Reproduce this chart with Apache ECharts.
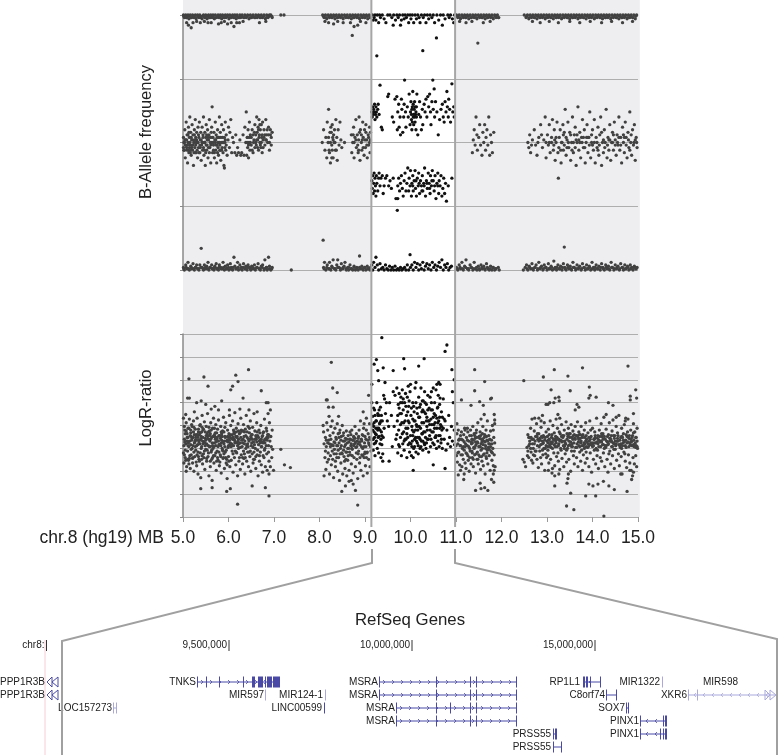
<!DOCTYPE html>
<html><head><meta charset="utf-8">
<style>html,body{margin:0;padding:0;background:#fff}#c{width:778px;height:755px}</style>
<script src="https://cdn.jsdelivr.net/npm/echarts@6/dist/echarts.min.js"></script>
</head><body><div id="c"></div>
<script>
// chromosome windows (MB)
const homBand=[9.14,10.98];
// B-allele frequency, flat x,y pairs, regions outside the highlighted band
const bafHighOuter=[5.01,1,5.03,.99,5.06,1,5.08,.99,5.11,1,5.13,.985,5.16,1,5.19,.99,5.21,1,5.24,.99,5.27,1,5.29,.985,5.32,1,5.35,.99,5.37,1,5.4,.995,5.42,.985,5.45,1,5.48,.99,5.5,1,5.53,.985,5.56,1,5.58,.99,5.61,1,5.64,.99,5.66,1,5.69,.985,5.71,1,5.74,.99,5.77,1,5.79,.99,5.82,1,5.85,.985,5.87,1,5.9,.99,5.93,1,5.95,.99,5.98,1,6.01,.985,6.03,1,6.06,.99,6.09,1,6.11,.99,6.14,1,6.17,.985,6.19,1,6.22,.99,6.25,1,6.27,.99,6.3,1,6.33,.99,6.36,1,6.39,.99,6.42,1,6.45,.985,6.48,1,6.51,.99,6.54,1,6.57,.99,6.6,1,6.63,.99,6.66,1,6.69,.99,6.72,1,6.75,.99,6.78,1,6.81,.985,6.84,1,6.87,.99,6.9,1,6.93,1,6.96,.99,7.15,1,7.22,1,
5.08,.97,5.12,.96,5.18,.95,5.22,.97,5.3,.975,5.38,.97,5.47,.975,5.55,.97,5.62,.97,5.78,.965,5.84,.97,5.91,.975,5.98,.965,6.06,.97,6.12,.955,6.18,.97,6.24,.97,6.32,.975,6.68,.97,6.82,.975,
8.07,1,8.1,.99,8.13,1,8.16,.985,8.19,1,8.22,.99,8.25,1,8.28,.99,8.31,1,8.34,.985,8.37,1,8.4,.99,8.43,1,8.46,.99,8.49,1,8.52,.985,8.55,1,8.58,.99,8.61,1,8.64,.99,8.67,1,8.7,.985,8.73,1,8.76,.99,8.79,1,8.82,.99,8.85,1,8.88,.985,8.91,1,8.94,.99,8.97,1,9,.99,9.03,1,9.06,.985,9.09,1,9.12,.99,
8.12,.975,8.2,.97,8.31,.965,8.4,.975,8.52,.97,8.68,.97,8.76,.955,8.84,.96,8.9,.975,9.02,.97,8.72,.92,
11.01,1,11.04,.99,11.07,1,11.1,.985,11.13,1,11.16,.99,11.19,1,11.22,.99,11.25,1,11.28,.985,11.31,1,11.34,.99,11.37,1,11.4,.99,11.43,1,11.46,.985,11.49,1,11.52,.99,11.55,1,11.58,.99,11.61,1,11.64,.985,11.67,1,11.7,.99,11.73,1,11.76,.99,11.79,1,11.82,.985,11.85,1,11.88,.99,11.91,1,11.94,.99,11.08,.975,11.22,.97,11.35,.975,11.48,.89,11.6,.97,11.75,.975,
12.5,1,12.54,.99,12.57,1,12.6,.985,12.63,1,12.66,.99,12.69,1,12.72,.99,12.75,1,12.78,.985,12.81,1,12.84,.99,12.87,1,12.9,.99,12.93,1,12.96,.985,12.99,1,13.02,.99,13.05,1,13.08,.99,13.11,1,13.14,.985,13.17,1,13.2,.99,13.23,1,13.26,.99,13.29,1,13.32,.985,13.35,1,13.38,.99,13.41,1,13.44,.99,13.47,1,13.5,.985,13.53,1,13.56,.99,13.59,1,13.62,.99,13.65,1,13.68,.985,13.71,1,13.74,.99,13.77,1,13.8,.99,13.83,1,13.86,.985,13.89,1,13.92,.99,13.95,1,13.98,.99,14.01,1,14.04,.985,14.07,1,14.1,.99,14.13,1,14.16,.99,14.19,1,14.22,.985,14.25,1,14.28,.99,14.31,1,14.34,.99,14.37,1,14.4,.985,14.43,1,14.46,.99,14.49,1,14.52,.99,14.55,1,14.58,.985,14.61,1,14.64,.99,14.67,1,14.7,.99,14.73,1,14.76,.985,14.79,1,14.82,.99,14.85,1,14.88,.99,14.91,1,14.94,.985,14.97,1,
12.68,.975,12.85,.97,13.05,.975,13.25,.97,13.5,.975,13.72,.97,13.95,.975,14.2,.97,14.42,.975,14.66,.97,14.88,.975];
const bafHighFill=[5.02,.995,5.07,.99,5.12,.995,5.17,.99,5.23,.995,5.28,.99,5.33,.995,5.38,.99,5.44,.995,5.49,.99,5.54,.995,5.6,.99,5.65,.995,5.7,.99,5.76,.995,5.81,.99,5.86,.995,5.92,.99,5.97,.995,6.02,.99,6.08,.995,6.13,.99,6.18,.995,6.24,.99,6.29,.995,6.35,.99,6.41,.995,6.47,.99,6.53,.995,6.59,.99,6.65,.995,6.71,.99,6.77,.995,6.83,.99,6.89,.995,6.95,.995,8.09,.995,8.15,.99,8.21,.995,8.27,.99,8.33,.995,8.39,.99,8.45,.995,8.51,.99,8.57,.995,8.63,.99,8.69,.995,8.75,.99,8.81,.995,8.87,.99,8.93,.995,8.99,.99,9.05,.995,9.11,.99,11.03,.995,11.09,.99,11.15,.995,11.21,.99,11.27,.995,11.33,.99,11.39,.995,11.45,.99,11.51,.995,11.57,.99,11.63,.995,11.69,.99,11.75,.995,11.81,.99,11.87,.995,11.93,.99,12.55,.995,12.61,.99,12.67,.995,12.73,.99,12.79,.995,12.85,.99,12.91,.995,12.97,.99,13.03,.995,13.09,.99,13.15,.995,13.21,.99,13.27,.995,13.33,.99,13.39,.995,13.45,.99,13.51,.995,13.57,.99,13.63,.995,13.69,.99,13.75,.995,13.81,.99,13.87,.995,13.93,.99,13.99,.995,14.05,.99,14.11,.995,14.17,.99,14.23,.995,14.29,.99,14.35,.995,14.41,.99,14.47,.995,14.53,.99,14.59,.995,14.65,.99,14.71,.995,14.77,.99,14.83,.995,14.89,.99,14.95,.995];
const bafMidOuter=[5.01,.52,5.02,.47,5.03,.5,5.04,.55,5.05,.44,5.06,.51,5.07,.58,5.08,.48,5.09,.53,5.1,.42,5.11,.5,5.12,.56,5.13,.46,5.14,.52,5.15,.6,5.16,.49,5.17,.54,5.18,.45,5.19,.51,5.2,.57,5.21,.47,5.22,.53,5.23,.41,5.24,.5,5.25,.55,5.26,.48,5.27,.59,5.28,.52,5.29,.46,5.3,.54,5.31,.5,5.32,.44,5.33,.56,5.34,.48,5.35,.52,5.36,.58,5.37,.46,5.38,.51,5.39,.54,5.4,.43,5.41,.49,5.42,.56,5.43,.47,5.44,.52,5.45,.6,5.46,.45,5.47,.5,5.48,.54,5.49,.41,5.5,.52,5.51,.57,5.52,.47,5.53,.49,5.54,.55,5.55,.44,5.56,.51,5.57,.53,5.58,.59,5.59,.48,5.6,.52,5.61,.42,5.62,.5,5.63,.56,5.64,.64,5.65,.46,5.66,.52,5.67,.49,5.68,.54,5.69,.44,5.7,.51,5.71,.58,5.72,.47,5.73,.53,5.74,.42,5.75,.49,5.76,.55,5.77,.5,5.78,.45,5.79,.52,5.8,.6,5.81,.47,5.82,.54,5.83,.43,5.84,.5,5.85,.57,5.86,.48,5.87,.52,5.88,.46,5.89,.55,5.9,.41,5.91,.4,5.92,.5,5.93,.58,5.94,.47,5.95,.53,5.97,.45,5.99,.51,6,.56,6.02,.48,6.03,.54,6.05,.59,6.07,.46,6.09,.52,6.11,.5,6.14,.46,6.16,.53,6.18,.45,6.2,.48,6.22,.46,6.25,.51,6.27,.45,6.29,.46,6.32,.53,6.34,.45,6.36,.56,6.38,.5,6.39,.62,6.4,.45,6.41,.52,6.42,.48,6.43,.55,6.44,.44,6.45,.5,6.46,.58,6.47,.47,6.48,.53,6.5,.49,6.52,.55,6.54,.46,6.56,.51,6.58,.57,6.6,.53,6.61,.49,6.62,.6,6.63,.54,6.64,.51,6.65,.56,6.66,.47,6.67,.59,6.68,.53,6.69,.5,6.7,.55,6.71,.48,6.72,.57,6.73,.52,6.74,.46,6.75,.58,6.76,.51,6.78,.55,6.8,.49,6.82,.59,6.84,.53,6.86,.5,6.88,.56,6.9,.47,6.92,.53,6.94,.49,6.96,.54,
8.06,.5,8.09,.55,8.12,.47,8.14,.52,8.16,.44,8.17,.58,8.19,.5,8.2,.63,8.21,.47,8.23,.54,8.24,.42,8.25,.56,8.27,.49,8.28,.57,8.29,.52,8.3,.44,8.32,.5,8.33,.55,8.35,.47,8.36,.59,8.38,.52,8.39,.43,8.41,.55,8.43,.49,8.45,.58,8.47,.51,8.49,.48,8.55,.5,8.7,.53,8.71,.46,8.73,.5,8.75,.56,8.76,.44,8.78,.52,8.8,.59,8.81,.48,8.83,.53,8.85,.46,8.86,.51,8.87,.6,8.89,.43,8.9,.55,8.92,.5,8.93,.47,8.95,.58,8.96,.52,8.98,.45,8.99,.55,9.01,.48,9.02,.57,9.04,.51,9.05,.44,9.07,.53,9.08,.49,9.1,.56,9.11,.46,9.12,.51,
11.36,.46,11.38,.51,11.4,.55,11.42,.49,11.44,.6,11.46,.53,11.47,.47,11.5,.52,11.52,.57,11.54,.49,11.57,.45,11.59,.54,11.61,.5,11.63,.57,11.65,.47,11.66,.52,11.68,.55,11.7,.49,11.72,.6,11.74,.45,11.76,.53,11.78,.5,11.8,.46,11.83,.54,
12.58,.5,12.6,.48,12.62,.53,12.64,.46,12.68,.51,12.72,.55,12.75,.49,12.78,.45,12.82,.52,12.86,.57,12.9,.48,12.93,.51,12.96,.6,12.98,.44,13.01,.53,13.03,.49,13.05,.57,13.07,.46,13.1,.52,13.12,.59,13.14,.47,13.16,.55,13.18,.43,13.2,.5,13.22,.58,13.24,.46,13.25,.36,13.27,.52,13.29,.55,13.31,.42,13.33,.5,13.35,.57,13.36,.47,13.38,.54,13.4,.63,13.42,.45,13.44,.51,13.46,.58,13.48,.48,13.5,.54,13.52,.43,13.54,.5,13.56,.6,13.58,.46,13.6,.53,13.62,.56,13.64,.41,13.66,.5,13.68,.64,13.7,.47,13.72,.54,13.74,.44,13.76,.52,13.78,.59,13.8,.48,13.82,.55,13.84,.42,13.86,.5,13.88,.57,13.9,.46,13.92,.52,13.94,.62,13.96,.44,13.98,.5,14,.55,14.02,.47,14.04,.59,14.06,.42,14.08,.52,14.1,.48,14.12,.56,14.14,.45,14.16,.53,14.18,.6,14.2,.41,14.22,.5,14.24,.46,14.26,.55,14.28,.5,14.3,.63,14.32,.44,14.34,.52,14.36,.47,14.38,.57,14.4,.43,14.42,.5,14.44,.54,14.46,.47,14.48,.58,14.5,.51,14.52,.45,14.54,.53,14.56,.49,14.58,.6,14.6,.47,14.62,.52,14.64,.42,14.66,.56,14.68,.5,14.7,.46,14.72,.58,14.74,.52,14.76,.44,14.78,.54,14.8,.48,14.82,.62,14.84,.5,14.86,.45,14.88,.55,14.9,.49,14.92,.57,14.94,.43,14.96,.52,14.98,.48];
const bafMidFill=[5.02,.5,5.37,.49,5.12,.47,5.71,.5,5.04,.51,5.5,.46,5.22,.49,5.83,.52,5.09,.47,5.61,.49,5.3,.51,5.92,.48,5.15,.5,5.45,.48,5.76,.46,5.24,.46,5.55,.52,5.03,.47,5.67,.47,5.33,.5,5.87,.5,5.18,.52,5.42,.5,5.73,.49,5.06,.49,5.53,.51,5.27,.46,5.8,.5,5.11,.53,5.64,.52,5.35,.46,5.95,.49,5.2,.49,5.47,.47,5.78,.52,5.08,.51,5.58,.46,5.29,.5,5.85,.47,5.14,.48,5.4,.51,5.69,.46,5.01,.48,5.51,.49,5.25,.53,5.75,.52,5.17,.47,5.62,.54,5.31,.47,5.89,.5,5.05,.49,5.44,.53,5.81,.49,5.21,.51,5.56,.48,5.34,.53,5.93,.51,5.13,.54,5.48,.5,5.72,.51,5.28,.49,5.6,.5,5.38,.48,5.82,.47,5.16,.46,5.66,.5,5.26,.51,5.77,.48,5.1,.49,5.52,.53,5.43,.5,5.91,.52,5.19,.48,6.5,.52,6.44,.49,6.62,.51,6.72,.5,6.55,.5,6.83,.51,6.67,.52,6.46,.52,6.78,.52,6.58,.48,6.88,.53,6.7,.49,6.41,.5,6.64,.48,6.8,.53,6.52,.47,6.9,.5,6.74,.53,6.48,.5,6.6,.5,6.85,.55,6.42,.52,6.66,.55,6.76,.48,6.54,.53,6.92,.55,6.69,.57,6.82,.51,6.57,.54,6.94,.52,
8.2,.52,8.24,.5,8.28,.47,8.31,.53,8.26,.54,8.34,.5,8.22,.46,8.3,.51,8.37,.47,8.27,.44,8.76,.5,8.84,.49,8.92,.53,9,.51,9.08,.52,8.8,.51,8.88,.54,8.96,.48,9.04,.49,9.12,.54,8.74,.53,8.86,.47,8.94,.51,9.02,.54,9.1,.5,
12.66,.49,12.8,.5,12.88,.53,12.98,.5,13.05,.5,13.15,.49,13.2,.52,13.26,.48,13.32,.5,13.38,.49,13.42,.52,13.47,.5,13.52,.53,13.58,.5,13.62,.48,13.66,.53,13.72,.5,13.77,.5,13.83,.48,13.87,.52,13.93,.49,13.98,.53,14.04,.5,14.1,.5,14.15,.49,14.2,.54,14.27,.48,14.33,.49,14.38,.51,14.44,.5,14.5,.49,14.55,.5,14.62,.49,14.68,.53,14.74,.49,14.79,.51,14.85,.53,14.91,.5,14.97,.5,13.1,.5,13.17,.51,13.3,.47,13.36,.53,13.44,.48,13.55,.47,13.64,.51,13.7,.51,13.8,.52,13.9,.52,14,.49,14.12,.47,14.24,.51,14.36,.51,14.46,.53,14.58,.52,14.7,.52,14.82,.47,14.94,.51];
const bafLowOuter=[5.01,.01,5.03,.0,5.06,.02,5.09,.005,5.11,.03,5.14,.0,5.17,.015,5.19,.005,5.22,.025,5.25,.0,5.27,.01,5.3,.02,5.32,.005,5.35,.0,5.37,.02,5.4,.085,5.42,.01,5.45,.0,5.47,.02,5.5,.005,5.52,.015,5.55,.03,5.57,.0,5.6,.01,5.63,.02,5.65,.005,5.68,.0,5.7,.015,5.73,.025,5.75,.005,5.78,.0,5.8,.02,5.83,.01,5.86,.005,5.88,.03,5.91,.0,5.93,.015,5.96,.005,5.98,.02,6.01,.0,6.04,.025,6.06,.01,6.09,.0,6.12,.05,6.14,.015,6.17,.005,6.2,.03,6.22,.0,6.25,.02,6.28,.01,6.3,.0,6.33,.025,6.36,.005,6.38,.015,6.41,.0,6.43,.02,6.46,.01,6.49,.0,6.51,.015,6.54,.005,6.57,.02,6.59,.0,6.62,.01,6.65,.025,6.67,.005,6.7,.0,6.72,.015,6.75,.02,6.78,.0,6.8,.04,6.83,.01,6.85,.0,6.88,.05,6.9,.015,6.93,.0,6.96,.01,7.38,.0,
8.08,.117,8.09,.01,8.11,.03,8.14,.0,8.17,.02,8.2,.005,8.22,.03,8.25,.0,8.27,.015,8.3,.04,8.33,.005,8.36,.0,8.38,.02,8.4,.04,8.43,.01,8.46,.0,8.48,.025,8.51,.005,8.54,.015,8.56,.03,8.59,.0,8.62,.01,8.64,.0,8.67,.02,8.7,.005,8.73,.0,8.76,.015,8.79,.0,8.82,.01,8.85,.0,8.88,.055,8.9,.005,8.93,.015,8.96,.0,8.99,.01,9.02,.0,9.05,.015,9.08,.005,9.11,.0,
11.01,.01,11.04,.0,11.07,.02,11.1,.005,11.13,.03,11.16,.0,11.19,.015,11.22,.04,11.25,.005,11.28,.0,11.31,.02,11.34,.01,11.37,.0,11.4,.03,11.43,.005,11.46,.0,11.49,.015,11.52,.0,11.55,.02,11.58,.005,11.61,.015,11.64,.0,11.67,.025,11.7,.005,11.73,.0,11.76,.015,11.79,.0,11.82,.01,11.85,.0,11.88,.005,11.95,.0,
12.48,.0,12.52,.01,12.55,.02,12.58,.0,12.61,.015,12.64,.005,12.67,.025,12.7,.0,12.73,.01,12.76,.02,12.79,.0,12.82,.03,12.85,.005,12.88,.015,12.91,.0,12.94,.02,12.97,.01,13,.0,13.03,.025,13.06,.005,13.09,.015,13.12,.0,13.15,.035,13.18,.01,13.21,.0,13.24,.02,13.27,.005,13.3,.015,13.33,.0,13.36,.025,13.38,.09,13.39,.01,13.42,.0,13.45,.02,13.48,.005,13.51,.015,13.54,.0,13.57,.03,13.6,.01,13.63,.0,13.66,.02,13.69,.005,13.72,.015,13.75,.0,13.78,.025,13.81,.01,13.84,.0,13.87,.02,13.9,.005,13.93,.015,13.96,.0,13.99,.03,14.02,.01,14.05,.0,14.08,.02,14.11,.005,14.14,.015,14.17,.0,14.2,.025,14.23,.01,14.26,.0,14.29,.02,14.32,.005,14.35,.015,14.38,.0,14.41,.03,14.44,.01,14.47,.0,14.5,.02,14.53,.005,14.56,.015,14.59,.0,14.62,.025,14.65,.01,14.68,.0,14.71,.02,14.74,.005,14.77,.015,14.8,.0,14.83,.02,14.86,.01,14.89,.0,14.92,.015,14.95,.005,14.98,.01];
const bafLowFill=[5.02,.005,5.07,.01,5.12,.005,5.18,.01,5.23,.005,5.28,.01,5.34,.005,5.39,.01,5.44,.005,5.49,.01,5.54,.005,5.59,.01,5.64,.005,5.69,.01,5.74,.005,5.79,.01,5.84,.005,5.89,.01,5.95,.005,6,.01,6.05,.005,6.1,.01,6.16,.005,6.21,.01,6.27,.005,6.32,.01,6.37,.005,6.42,.01,6.48,.005,6.53,.01,6.58,.005,6.63,.01,6.69,.005,6.74,.01,6.79,.005,6.84,.01,6.9,.005,6.95,.005,8.1,.005,8.16,.01,8.22,.005,8.28,.01,8.34,.005,8.4,.01,8.46,.005,8.52,.01,8.58,.005,8.64,.01,8.7,.005,8.76,.01,8.82,.005,8.88,.01,8.94,.005,9,.01,9.06,.005,9.12,.01,11.03,.005,11.09,.01,11.15,.005,11.21,.01,11.27,.005,11.33,.01,11.39,.005,11.45,.01,11.51,.005,11.57,.01,11.63,.005,11.69,.01,11.75,.005,11.81,.01,11.87,.005,11.93,.01,12.56,.005,12.62,.01,12.68,.005,12.74,.01,12.8,.005,12.86,.01,12.92,.005,12.98,.01,13.04,.005,13.1,.01,13.16,.005,13.22,.01,13.28,.005,13.34,.01,13.4,.005,13.46,.01,13.52,.005,13.58,.01,13.64,.005,13.7,.01,13.76,.005,13.82,.01,13.88,.005,13.94,.01,14,.005,14.06,.01,14.12,.005,14.18,.01,14.24,.005,14.3,.01,14.36,.005,14.42,.01,14.48,.005,14.54,.01,14.6,.005,14.66,.01,14.72,.005,14.78,.01,14.84,.005,14.9,.01,14.96,.005];
// B-allele frequency inside the highlighted band
const bafHighInner=[9.16,1,9.18,.98,9.2,.99,9.22,1,9.24,.98,9.26,.84,9.27,1,9.3,.97,9.32,1,9.34,.99,9.38,1,9.42,.985,9.46,.97,9.5,1,9.55,1,9.59,.99,9.62,.96,9.63,1,9.67,.98,9.7,1,9.73,.99,9.76,1,9.78,.96,9.8,.98,9.83,1,9.86,.985,9.88,1,9.91,.99,9.94,1,9.96,.97,9.99,1,10.01,.985,10.04,1,10.07,.97,10.1,1,10.13,.985,10.16,1,10.19,.99,10.21,.97,10.24,1,10.27,.86,10.28,.99,10.31,1,10.34,.97,10.37,1,10.4,.985,10.43,1,10.47,.99,10.5,1,10.53,.97,10.57,.91,10.58,1,10.62,.98,10.66,1,10.7,.96,10.72,1,10.76,.985,10.82,1,10.85,.99,10.88,1,10.92,.985,10.95,.97,10.97,1];
const bafUpperInner=[9.15,.62,9.16,.6,9.17,.64,9.18,.61,9.19,.63,9.2,.62,9.21,.65,9.22,.59,9.23,.61,9.24,.64,9.25,.62,9.26,.6,9.28,.63,9.29,.65,9.31,.61,9.33,.725,9.36,.56,9.38,.55,9.5,.68,9.52,.69,9.6,.6,9.63,.58,9.66,.67,9.7,.68,9.71,.55,9.72,.62,9.74,.65,9.75,.56,9.77,.6,9.78,.53,9.8,.67,9.81,.63,9.83,.54,9.85,.6,9.86,.65,9.87,.745,9.89,.62,9.9,.56,9.93,.64,9.95,.6,9.97,.69,9.99,.57,10.0,.62,10.01,.66,10.02,.59,10.03,.55,10.04,.64,10.05,.7,10.06,.6,10.07,.57,10.08,.63,10.09,.66,10.1,.58,10.11,.61,10.12,.55,10.13,.64,10.14,.69,10.16,.53,10.18,.61,10.2,.66,10.22,.6,10.24,.55,10.26,.63,10.27,.57,10.3,.65,10.32,.62,10.34,.67,10.36,.6,10.38,.68,10.4,.64,10.42,.69,10.44,.62,10.45,.57,10.47,.66,10.49,.745,10.5,.63,10.52,.71,10.53,.6,10.55,.66,10.58,.62,10.61,.53,10.64,.59,10.67,.63,10.7,.65,10.72,.6,10.74,.58,10.76,.66,10.78,.62,10.8,.7,10.81,.64,10.83,.6,10.84,.67,10.86,.63,10.88,.58,10.91,.73,10.93,.62,10.95,.64,10.96,.6,10.03,.63,10.06,.65,10.09,.6,10.12,.62,10.04,.58,10.1,.64,10.07,.61,10.13,.6,10.02,.61];
const bafLowerInner=[9.15,.35,9.16,.32,9.17,.37,9.18,.3,9.19,.34,9.2,.38,9.21,.31,9.22,.36,9.23,.33,9.24,.29,9.25,.37,9.26,.34,9.28,.31,9.3,.36,9.31,.38,9.33,.33,9.35,.36,9.38,.37,9.4,.3,9.42,.33,9.45,.36,9.48,.37,9.52,.33,9.55,.35,9.58,.32,9.62,.36,9.68,.28,9.71,.234,9.72,.28,9.72,.33,9.74,.36,9.76,.31,9.78,.34,9.8,.37,9.82,.32,9.84,.29,9.86,.35,9.88,.38,9.9,.31,9.92,.34,9.94,.4,9.96,.31,9.97,.36,9.99,.33,10.0,.39,10.02,.29,10.03,.34,10.05,.37,10.06,.31,10.08,.35,10.1,.39,10.11,.32,10.13,.29,10.15,.36,10.17,.33,10.18,.38,10.2,.3,10.22,.35,10.24,.33,10.26,.37,10.27,.31,10.29,.34,10.31,.4,10.33,.29,10.35,.35,10.37,.32,10.39,.38,10.41,.34,10.43,.3,10.44,.37,10.46,.33,10.48,.39,10.5,.35,10.52,.31,10.54,.37,10.56,.28,10.58,.34,10.6,.38,10.62,.3,10.63,.35,10.65,.33,10.67,.37,10.69,.29,10.71,.32,10.73,.36,10.75,.3,10.77,.34,10.79,.27,10.83,.33,10.91,.36,10.05,.33,10.12,.35,10.19,.34,10.25,.31,10.3,.33,10.36,.34,10.42,.32,10.47,.35,10.53,.33,10.6,.33];
const bafLowInner=[9.15,.02,9.17,.0,9.19,.03,9.22,.01,9.24,.05,9.27,.02,9.3,.0,9.33,.025,9.36,.005,9.39,.01,9.42,.0,9.45,.02,9.48,.005,9.51,.0,9.54,.015,9.57,.0,9.6,.01,9.63,.0,9.66,.015,9.69,.0,9.72,.005,9.75,.0,9.78,.01,9.81,.0,9.84,.005,9.87,.01,9.9,.0,9.93,.02,9.96,.0,9.99,.06,10.0,.01,10.03,.02,10.06,.0,10.09,.03,10.12,.01,10.15,.025,10.18,.0,10.21,.02,10.24,.005,10.27,.03,10.3,.0,10.33,.015,10.36,.025,10.39,.005,10.42,.02,10.45,.0,10.48,.03,10.51,.01,10.54,.02,10.57,.0,10.6,.015,10.63,.03,10.66,.01,10.69,.04,10.72,.0,10.75,.02,10.78,.01,10.81,.025,10.84,.0,10.87,.01,10.9,.015];
// LogR ratio, flat x,y pairs
const lrrLeft=[5.13,.76,5.46,.78,6.44,.86,6.16,.8,6.21,.73,5.55,.68,6.09,.68,6.05,.64,6.2,-.61,6.89,-.52,5.96,-.47,6.04,-.44,6.52,-.41,6.81,-.43,5.39,-.44,5.64,-.43,7.23,-.18,7.36,-.21,7.15,-.01,6.97,-.01,6.99,-.24,5.1,.55,5.14,.55,5.3,.5,5.4,.52,5.5,.48,5.7,.46,5.85,.52,6.32,.55,6.72,.63,6.83,.5,6.87,.5,6.63,.4,6.45,.42,6.25,.43,6.02,.42,5.78,.42,5.62,.43,5.25,.4,5.06,.37,5.01,.33,5.03,.1,5.01,-.05,5.02,-.16,5.04,.2,5.05,-.1,5.06,.05,5.07,.28,5.08,-.2,5.09,.12,5.1,-.03,5.11,.22,5.12,-.13,5.13,.02,5.14,.32,5.15,.08,5.16,-.22,5.17,.17,5.18,-.07,5.19,.26,5.2,.0,5.21,-.16,5.22,.12,5.23,.3,5.24,-.25,5.25,.06,5.26,-.09,5.27,.21,5.28,-.02,5.29,.15,5.3,-.19,5.31,.33,5.32,.04,5.33,-.28,5.34,.18,5.35,-.12,5.36,.09,5.37,.25,5.38,-.05,5.39,-.32,5.4,.13,5.41,.02,5.42,.36,5.43,-.17,5.44,.2,5.45,-.06,5.46,.07,5.47,.29,5.48,-.23,5.49,.11,5.5,-.01,5.51,.24,5.52,-.14,5.53,.16,5.54,.38,5.55,-.09,5.56,.03,5.57,-.3,5.58,.19,5.59,.08,5.6,-.2,5.61,.28,5.62,-.04,5.63,.12,5.64,-.35,5.65,.22,5.66,.0,5.67,.33,5.68,-.16,5.69,.06,5.7,-.08,5.71,.17,5.72,.26,5.73,-.24,5.74,.1,5.75,-.03,5.76,.21,5.77,-.13,5.78,.31,5.79,.04,5.8,-.19,5.81,.14,5.82,-.07,5.83,.24,5.84,-.27,5.85,.09,5.86,.0,5.87,.19,5.88,-.11,5.89,.34,5.9,.05,5.91,-.22,5.92,.13,5.93,-.04,5.94,.28,5.95,-.16,5.96,.08,5.97,-.33,5.98,.2,5.99,.01,6,-.09,6.01,.16,6.02,.36,6.03,-.2,6.04,.06,6.05,.25,6.06,-.13,6.07,.11,6.08,-.03,6.09,.3,6.1,-.26,6.11,.03,6.12,.18,6.13,-.1,6.14,.39,6.15,.07,6.16,-.18,6.17,.22,6.18,-.05,6.19,.13,6.2,-.3,6.21,.27,6.22,.0,6.23,-.14,6.24,.16,6.25,.06,6.26,-.23,6.27,.33,6.28,-.07,6.29,.19,6.3,.02,6.31,-.17,6.32,.1,6.33,.26,6.34,-.11,6.35,.05,6.36,-.28,6.37,.21,6.38,.0,6.39,.36,6.4,-.14,6.41,.12,6.42,-.04,6.43,.24,6.44,-.2,6.45,.08,6.46,.17,6.47,-.09,6.48,.3,6.49,-.25,6.5,.03,6.51,.15,6.52,-.06,6.53,.23,6.54,-.16,6.55,.07,6.56,.38,6.57,-.12,6.58,.19,6.59,.0,6.6,-.22,6.61,.1,6.62,.28,6.63,-.07,6.64,.14,6.65,-.3,6.66,.04,6.67,.2,6.68,-.14,6.69,.09,6.7,-.04,6.71,.25,6.72,-.18,6.73,.02,6.74,.13,6.75,-.26,6.76,.06,6.77,.18,6.78,-.1,6.79,.32,6.8,.0,6.81,-.2,6.82,.1,6.83,.22,6.84,-.06,6.85,-.24,6.86,.15,6.87,.38,6.88,.03,6.89,-.14,6.9,.28,6.91,.08,6.92,-.2,6.93,.13,6.94,.02,6.95,-.1,6.96,.2,6.92,.42,6.89,-.28,
5.07,-.25,5.11,.12,5.13,-.17,5.17,.04,5.22,-.1,5.27,.09,5.33,-.04,5.36,.15,5.41,-.12,5.44,.05,5.49,.18,5.53,-.02,5.57,.1,5.6,.02,5.65,-.1,5.7,.13,5.74,-.14,5.79,.14,5.84,.06,5.88,-.03,5.92,.02,5.96,-.12,6,.12,6.03,.04,6.06,.02,6.1,.12,6.13,.09,6.17,-.04,6.22,.1,6.26,.01,6.31,.06,6.35,.18,6.4,.03,6.44,.1,6.48,-.03,6.52,.1,6.56,-.04,6.6,.14,6.64,-.02,6.68,.08,6.72,.02,6.76,-.08,6.8,.06,6.84,.12,6.88,-.04];
const lrrLeftFill=[5.35,.07,5.02,.03,5.71,.1,5.18,-.01,6.05,.02,5.52,.05,6.38,.14,5.9,-.06,5.27,.02,6.62,.07,5.05,.16,5.8,.04,6.14,.06,5.43,.08,6.75,.14,5.2,.11,5.63,-.02,6.27,.12,5.97,.09,5.1,-.12,6.5,.11,5.33,.12,5.76,-.1,6.18,.12,5.47,-.03,6.85,.09,5.24,-.04,5.66,.13,6.33,-.03,5.93,.12,5.08,.08,6.57,.04,5.4,.0,5.83,.03,6.22,.19,5.55,.14,6.7,.06,5.15,-.08,6.02,.09,5.6,.16,6.42,.05,5.3,.03,5.87,-.02,6.1,-.06,5.48,.06,6.79,-.02,5.12,.06,5.72,-.05,6.29,.09,5.94,-.1,5.38,.17,6.47,.1,5.03,-.07,5.78,.08,6.08,.15,5.56,-.05,6.66,.12,5.22,.03,5.68,.02,6.36,.08,5.99,.07,5.34,-.09,6.54,.01,5.16,.14,5.82,.11,6.2,.03,5.44,.12,6.83,.03,5.28,.12,5.64,.06,6.24,-.1,5.9,.18,5.06,-.13,6.6,-.09,5.42,-.08,5.74,.17,6.15,-.03,5.52,-.11,6.72,.1,5.19,.09,5.6,-.14,6.31,-.1,5.86,.13,5.31,-.07,6.45,-.04,5.09,.16,5.79,-.04,6.07,.05,5.58,.02,6.87,.12,5.25,.15,5.69,.15,6.41,.18,6.0,.03,5.37,.05,6.58,.1,5.14,-.11,5.85,.16,6.19,.06,5.46,-.1,6.76,.17,5.29,-.15,5.62,.2,6.34,.13,5.95,-.02,5.04,.07,6.52,.15,5.41,.18,5.77,.02,6.12,.1,5.5,.09,6.68,-.08,5.23,.18,5.73,.07,6.26,.17,5.91,.08,5.34,.21,6.49,.13,5.11,.03,5.83,-.09,6.03,.15,5.57,.23,6.8,.1,5.21,-.11,5.67,-.08,6.37,-.1,5.98,.13,5.39,.1,6.63,.18,5.17,.2,5.88,.07,6.16,.13,5.45,.21,6.88,.15,5.26,.07,5.61,.1,6.21,.08,6.01,-.14,5.07,.19,6.55,-.12,5.36,-.14,5.75,.12,6.11,.2,5.51,.14,6.73,.07,5.13,.22,5.69,.22,6.28,.2,5.84,.18,5.32,.15,6.43,.02,5.05,-.02,5.92,.23,6.09,.1,5.54,.11,6.84,.19,5.18,.13,5.65,.03,6.35,-.06,5.97,-.18,5.42,.23,6.61,.13,5.24,.23,5.81,-.15,6.13,.16,5.49,.03,6.78,.08,5.1,.08,5.59,.14,6.23,.05,5.89,-.1,5.3,.09,6.51,.06,5.03,.24,5.72,.03,6.17,.18,5.56,.18,6.69,.17,5.2,.24,5.63,-.12,6.32,.19,6.04,.12,5.38,.26,6.46,.22];
const lrrMid=[8.26,.94,8.29,.66,8.39,.61,8.84,-.62,8.49,-.47,8.79,-.46,8.57,-.41,8.65,-.36,8.74,-.39,8.7,-.35,8.15,.53,8.17,.53,8.2,.45,8.3,.45,8.42,.35,8.96,.4,9.08,.58,8.98,.27,9.03,.33,8.08,.25,8.1,-.3,8.09,.18,8.1,.05,8.12,-.1,8.13,.12,8.14,-.23,8.15,.02,8.16,.28,8.17,-.15,8.18,.2,8.19,-.05,8.2,.09,8.21,.35,8.22,-.28,8.23,.14,8.24,-.08,8.25,.24,8.26,-.18,8.27,.04,8.28,.3,8.29,-.12,8.3,.17,8.31,-.32,8.32,.07,8.33,-.01,8.34,.22,8.35,-.2,8.36,.12,8.37,-.06,8.38,.03,8.39,.27,8.4,-.25,8.41,.16,8.42,-.1,8.43,.06,8.44,-.35,8.45,.2,8.46,.0,8.47,-.16,8.48,.13,8.49,-.05,8.5,.25,8.51,-.28,8.52,.08,8.53,.17,8.54,-.09,8.55,.02,8.56,-.22,8.57,.11,8.58,-.04,8.59,.19,8.6,-.3,8.61,.06,8.62,-.13,8.63,.14,8.64,.0,8.65,-.24,8.66,.1,8.67,.18,8.68,-.07,8.69,.03,8.7,-.17,8.71,.2,8.72,-.01,8.73,.09,8.74,-.27,8.75,.13,8.76,-.1,8.77,.05,8.78,.24,8.79,-.2,8.8,.01,8.81,.16,8.82,-.12,8.83,.08,8.84,-.33,8.85,.11,8.86,-.03,8.87,.2,8.88,-.16,8.89,.04,8.9,.3,8.91,-.24,8.92,.1,8.93,-.07,8.94,.15,8.95,.0,8.96,-.3,8.97,.22,8.98,-.1,8.99,.06,9,.13,9.01,-.19,9.02,.02,9.03,.2,9.04,-.05,9.05,-.27,9.06,.09,9.07,.16,9.08,-.12,9.09,.04,9.1,.27,9.11,-.2,9.12,.1,9.13,-.03];
const lrrMidFill=[8.55,.08,8.82,.02,8.25,.1,9.02,.1,8.4,.03,8.7,.05,8.95,-.08,8.62,.0,8.32,-.06,8.88,.07,8.5,-.06,8.75,.03,9.08,.06,8.2,-.12,8.6,.1,8.85,-.06,8.43,.12,8.98,.02,8.72,-.08,8.3,.03,8.53,-.02,9.05,-.04,8.65,.07,8.37,.1,8.92,.02,8.78,.11,8.48,.03,8.15,.09,8.58,-.12,8.81,-.05,8.35,-.14,9.0,-.04,8.68,.1,8.24,.02,8.89,-.1,8.45,-.06,8.76,.12,8.57,.04,9.1,.12,8.28,-.03,8.63,-.08,8.93,.08,8.41,-.02,8.71,.0,8.18,.06,8.52,.14,8.84,.05,9.03,-.1,8.34,.06,8.66,-.04,8.96,.14,8.47,.09,8.79,.07,8.22,.05,8.6,-.04,9.12,.02,8.38,-.1,8.86,.13,8.55,-.14,8.74,.09,8.13,-.03,8.99,-.06,8.44,.17,8.69,.15];
const lrrRight=[11.41,.86,11.63,.73,11.41,.63,11.43,-.46,11.12,.53,11.02,.27,11.52,.51,11.6,.47,11.33,.47,11.76,.54,11.78,.55,11.84,.37,11.85,.31,11.85,.27,11.62,.37,11.55,.32,11.2,.2,11.25,.22,11.17,-.34,11.05,-.29,11.1,-.24,11.18,-.28,11.53,-.38,11.55,-.44,11.63,-.43,11.7,-.46,11.78,-.34,11.82,-.28,11.83,-.37,11.84,-.24,
11,.03,11.01,-.08,11.02,.16,11.03,-.15,11.04,.05,11.05,.2,11.06,-.04,11.07,.1,11.08,-.18,11.09,.03,11.1,.14,11.11,-.07,11.12,.18,11.13,-.2,11.14,.0,11.15,.09,11.16,-.12,11.17,.15,11.18,-.02,11.19,.22,11.2,-.16,11.21,.05,11.22,-.22,11.23,.12,11.24,-.06,11.25,.03,11.26,.18,11.27,-.13,11.28,.08,11.29,-.25,11.3,.14,11.31,-.03,11.32,.2,11.33,-.17,11.34,.05,11.35,.1,11.36,-.1,11.37,.24,11.38,-.2,11.39,.01,11.4,.16,11.41,-.07,11.42,.11,11.43,-.27,11.44,.04,11.45,.2,11.46,-.12,11.47,.07,11.48,.28,11.49,-.17,11.5,.02,11.51,.13,11.52,-.09,11.53,.18,11.54,-.23,11.55,.05,11.56,.1,11.57,-.14,11.58,.0,11.59,.24,11.6,-.19,11.61,.08,11.62,-.06,11.63,.15,11.64,-.28,11.65,.03,11.66,.2,11.67,-.11,11.68,.09,11.69,.3,11.7,-.17,11.71,.01,11.72,.14,11.73,-.08,11.74,.05,11.75,-.24,11.76,.19,11.77,-.03,11.78,.09,11.79,-.13,11.8,.25,11.81,.0,11.82,-.19,11.83,.12,11.84,-.07,11.85,.06,11.86,-.2,11.82,.2,11.79,.05,11.74,.1,11.69,-.02,11.64,.07,11.58,.1,11.53,.02,11.47,-.04,11.42,.02,11.36,.06];
const lrrRightFill=[11.4,.0,11.55,-.02,11.25,.09,11.65,.0,11.1,.03,11.48,.06,11.35,-.03,11.72,.05,11.18,.07,11.6,.04,11.3,.0,11.52,.11,11.44,-.06,11.08,.1,11.68,-.05,11.22,-.05,11.57,.07,11.38,.09,11.76,.02,11.14,-.07,11.5,-.07,11.28,.02,11.62,.12,11.43,.07,11.04,-.05,11.7,.08,11.33,.07,11.56,-.09,11.46,.12,11.2,.02,11.66,-.09,11.36,-.05,11.8,-.05,11.12,.1,11.52,.02,11.41,.14,11.26,-.08,11.6,-.07,11.73,-.01,11.48,-.12,11.16,.02,11.34,.14,11.58,.16,11.06,.09,11.44,.17,11.67,.13,11.3,-.1,11.78,-.04,11.54,.14,11.38,-.12];
const lrrFar=[12.49,.74,12.92,.78,13.16,.86,13.46,.79,13.78,.88,14.78,.9,13.51,.63,13.09,.64,13.93,.67,14.95,.64,13.43,-.63,13.59,-.67,14.25,-.74,13.85,-.52,14.07,-.52,13.52,-.49,14.76,-.47,14.48,-.45,14.36,-.41,13.17,-.41,13.92,-.39,14.01,-.41,14.12,-.39,14.24,-.36,12.98,.48,13.02,.48,13.06,.5,13.18,.55,13.26,.56,13.27,.52,13.15,.5,13.92,.55,13.95,.58,14.08,.56,14.35,.5,14.45,.47,14.83,.57,14.83,.53,14.97,.55,13.7,.45,13.62,.42,13.66,.48,12.67,.32,12.73,.33,12.82,.33,12.87,.3,12.9,.36,13.28,.33,13.24,.37,14.3,.37,14.52,.34,14.73,.33,14.72,.3,14.9,.38,12.53,-.2,12.5,-.15,12.47,-.12,13.03,-.24,13.12,-.22,13.17,-.3,13.26,-.28,13.46,-.33,13.47,-.28,13.44,-.38,14.9,-.26,14.86,-.34,14.88,-.3,14.82,-.24,14.62,-.28,
12.56,.01,12.58,.15,12.6,-.1,12.62,.05,12.64,.22,12.65,-.04,12.67,.1,12.69,-.16,12.7,.0,12.72,.19,12.73,-.08,12.75,.13,12.77,.27,12.78,-.12,12.79,.03,12.81,-.21,12.82,.16,12.84,-.03,12.85,.09,12.87,.23,12.88,-.17,12.9,.05,12.91,-.07,12.92,.14,12.94,.28,12.95,-.24,12.96,.0,12.98,.18,12.99,-.1,13,.08,13.02,-.02,13.03,.21,13.04,-.16,13.06,.04,13.07,.3,13.08,-.12,13.1,.12,13.11,-.27,13.12,.07,13.13,.25,13.15,-.05,13.16,.17,13.17,-.19,13.18,.02,13.2,.32,13.21,-.09,13.22,.12,13.23,.22,13.25,-.14,13.26,.05,13.27,.18,13.28,-.23,13.3,.09,13.31,-.02,13.32,.26,13.33,-.11,13.34,.14,13.36,.03,13.37,-.2,13.38,.2,13.39,.08,13.4,-.06,13.42,.29,13.43,-.15,13.44,.1,13.45,.0,13.47,.22,13.48,-.12,13.49,.16,13.5,.04,13.52,-.25,13.53,.26,13.54,-.03,13.55,.12,13.57,.19,13.58,-.08,13.59,.06,13.6,-.17,13.62,.24,13.63,.01,13.64,.14,13.65,-.1,13.67,.29,13.68,-.2,13.69,.07,13.7,.18,13.72,-.04,13.73,.11,13.74,-.14,13.75,.24,13.77,.03,13.78,-.24,13.79,.15,13.8,-.07,13.82,.2,13.83,.05,13.84,-.16,13.85,.28,13.87,.1,13.88,-.11,13.89,.01,13.9,.17,13.92,-.2,13.93,.08,13.94,.3,13.95,-.05,13.97,.13,13.98,-.26,13.99,.04,14,.22,14.02,-.12,14.03,.1,14.04,-.02,14.05,.18,14.07,-.17,14.08,.06,14.09,.33,14.1,-.08,14.12,.14,14.13,-.22,14.14,.02,14.15,.2,14.17,-.1,14.18,.08,14.19,.27,14.2,-.14,14.22,.04,14.23,.16,14.24,-.05,14.25,.34,14.27,-.2,14.28,.1,14.29,.01,14.3,.21,14.32,-.12,14.33,.07,14.34,-.26,14.35,.15,14.37,.28,14.38,-.03,14.39,.11,14.4,-.17,14.42,.02,14.43,.19,14.44,-.08,14.45,.31,14.47,.05,14.48,-.22,14.49,.14,14.5,-.01,14.52,.24,14.53,-.13,14.54,.08,14.55,.17,14.57,-.06,14.58,.36,14.59,-.19,14.6,.03,14.62,.12,14.63,-.09,14.64,.22,14.65,-.28,14.67,.06,14.68,.16,14.69,-.04,14.7,.26,14.72,-.14,14.73,.09,14.74,.01,14.75,-.21,14.77,.18,14.78,.32,14.79,-.07,14.8,.11,14.82,-.16,14.83,.04,14.84,.2,14.85,-.24,14.87,.08,14.88,.14,14.89,-.1,14.9,.27,14.91,.02,14.92,-.17,14.93,.18,14.94,.06,14.95,-.08,14.96,.12,14.97,-.2,14.98,.22,14.99,.0,
12.57,-.08,12.61,.12,12.66,-.13,12.7,.1,12.74,-.03,12.79,.16,12.83,.02,12.86,-.1,12.9,.12,12.93,.0,12.97,-.06,13.01,.13,13.05,.1,13.09,.01,13.14,.1,13.19,.08,13.24,-.05,13.29,.16,13.35,.12,13.41,.05,13.46,.13,13.51,.16,13.56,.02,13.61,.11,13.66,.05,13.71,.15,13.76,-.02,13.81,.06,13.86,.14,13.91,.02,13.96,.2,14.01,.06,14.06,.12,14.11,-.02,14.16,.07,14.21,.13,14.26,.0,14.31,.08,14.36,-.06,14.41,.09,14.46,.14,14.51,.03,14.56,.08,14.61,.01,14.66,.12,14.71,-.06,14.76,.06,14.81,.14,14.86,.03,14.91,.09,14.96,.03];
const lrrFarFill=[13.4,.06,12.64,.0,14.2,.07,13.02,.06,14.62,.05,13.7,.1,12.8,.1,14.04,.1,13.25,.03,14.85,.07,13.55,.05,12.6,.03,14.35,.05,13.12,.0,14.72,.03,13.82,.0,12.9,-.02,14.12,.05,13.33,.07,14.95,.01,13.62,.1,12.72,.05,14.44,.02,13.18,.1,14.55,.11,13.9,.05,13.02,-.08,14.23,.1,13.48,.08,14.8,.02,13.75,.08,12.86,.04,14.0,.02,13.28,.08,14.68,.09,13.6,-.03,12.68,.05,14.3,.03,13.1,.05,14.9,.04,13.85,.08,12.95,.09,14.16,.13,13.38,.0,14.58,.04,13.66,.14,12.76,-.03,14.47,-.01,13.22,.02,14.98,.08,13.95,.1,13.05,.02,14.08,.0,13.44,.16,14.76,.13,13.72,.02,12.82,.08,14.38,.11,13.15,.1,14.64,.0,13.86,-.04,12.62,.08,14.26,.13,13.52,.07,14.87,.12,13.78,.12,12.98,.03,14.05,.06,13.3,.0,14.5,.08,13.57,.1,12.7,-.07,14.41,.14,13.2,.06,14.95,.12,13.92,.12,13.08,.07,14.18,.02,13.37,.14,14.7,.07,13.65,.01,12.88,.13,14.33,.13,13.26,.1,14.6,.09,13.83,.12,12.58,-.03,14.11,.11,13.47,.03,14.82,.06,13.74,.06,12.92,.06,14.02,.03,13.16,.04,14.52,.05,13.6,.15,12.78,.13,14.46,.06,13.34,.08,14.9,.17,13.97,.06,13.05,.15,14.24,.04,13.43,-.02,14.74,.15,13.7,.03,12.65,.12,14.38,.08,13.11,.15,14.66,.03,13.88,.07,12.84,.11,14.14,.09,13.54,.02,14.93,.03,13.8,.03,12.96,.12,14.06,.14,13.24,.1,14.56,.14,13.58,.14,12.74,.08,14.28,.03,13.39,.03,14.84,.1,13.77,.14,13.01,.02,14.2,.16,13.5,.12,14.64,.13,13.94,.04,12.9,.08,14.34,.04,13.19,.13,14.98,.02,13.68,.12,12.6,.12,14.1,.07,13.32,.13,14.48,.11,13.86,.02,13.03,.09,14.42,.07,13.47,.13,14.78,.07,13.73,.15];
const lrrInner=[9.37,1.21,10.8,1.13,10.76,1.06,9.25,.97,9.2,.92,9.4,.88,9.85,.98,10.3,.98,10.18,.9,9.87,.87,9.62,.85,10.91,.86,9.28,.85,10.06,-.24,10.76,-.22,10.5,-.18,9.53,-.14,9.39,-.14,10.96,.75,10.92,.62,9.3,.74,9.44,.72,9.15,.7,10.58,.7,10.62,.72,10.65,.7,10.12,.72,10.0,.7,9.95,.68,
9.15,.5,9.16,.1,9.17,.35,9.18,-.02,9.19,.24,9.2,.05,9.21,.42,9.22,-.08,9.23,.16,9.24,.3,9.25,.08,9.26,.5,9.27,.0,9.28,.2,9.29,.36,9.3,-.05,9.31,.13,9.32,.27,9.33,.05,9.34,.45,9.35,-.1,9.36,.18,9.37,.04,9.38,.3,9.39,-.06,9.4,.12,9.41,.58,9.42,.22,9.43,.54,9.45,.38,9.47,.5,9.49,.3,9.52,.24,9.54,.5,9.58,.36,9.6,.02,9.62,.62,9.64,.24,9.66,.58,9.68,.1,9.7,.66,9.71,.3,9.72,-.05,9.73,.48,9.74,.2,9.75,.6,9.76,.02,9.77,.38,9.78,.12,9.79,.56,9.8,-.08,9.81,.28,9.82,.64,9.83,.05,9.84,.42,9.85,.18,9.86,-.02,9.87,.5,9.88,.3,9.89,.6,9.9,.1,9.91,.36,9.92,-.1,9.93,.56,9.94,.22,9.95,.04,9.96,.46,9.97,.28,9.98,-.04,9.99,.62,10,.14,10.01,.36,10.02,-.08,10.03,.24,10.04,.08,10.05,.5,10.06,-.1,10.07,.18,10.08,.3,10.09,.02,10.1,.66,10.11,.12,10.12,-.04,10.13,.26,10.14,.44,10.15,.06,10.16,.2,10.17,-.06,10.18,.56,10.19,.12,10.2,.34,10.21,.0,10.22,.22,10.23,.66,10.24,.08,10.25,.4,10.26,.16,10.27,-.02,10.28,.52,10.29,.28,10.3,.06,10.31,.62,10.32,.18,10.33,.38,10.34,.0,10.35,.48,10.36,.24,10.37,.1,10.38,.58,10.39,.3,10.4,-.04,10.41,.44,10.42,.14,10.43,.56,10.44,.02,10.45,.32,10.46,.62,10.47,.18,10.48,.42,10.49,.06,10.5,.66,10.51,.26,10.52,.04,10.53,.5,10.54,.12,10.55,.36,10.56,.64,10.57,.0,10.58,.22,10.59,.44,10.6,.08,10.61,.58,10.62,.3,10.63,.02,10.64,.48,10.65,.14,10.66,.26,10.67,.06,10.68,.4,10.69,.2,10.7,.0,10.72,.54,10.74,.1,10.76,.3,10.78,-.02,10.8,.2,10.82,.05,10.84,.36,10.86,.12,10.88,.02,10.9,.24,10.92,.08,10.94,.5,10.96,.2,10.97,.04,
9.17,.2,9.19,.44,9.21,.12,9.23,.06,9.25,.3,9.27,.22,9.29,.12,9.31,.42,9.33,.2,9.35,.3,9.37,.14,9.7,.15,9.74,.04,9.78,.26,9.82,.16,9.86,.08,9.9,.22,9.94,.12,9.98,.06,10.01,.05,10.03,.02,10.05,.14,10.07,.0,10.09,.1,10.11,.2,10.13,.08,10.15,.12,10.17,.03,10.19,.24,10.21,.1,10.23,.02,10.25,.16,10.27,.08,10.29,.18,10.31,.04,10.33,.12,10.35,.06,10.37,.2,10.39,.1,10.41,.3,10.43,.2,10.45,.1,10.47,.26,10.5,.34,10.53,.22,10.56,.14,10.6,.28,10.64,.34,10.68,.1];
const lrrInnerFill=[10.1,.3,9.2,.28,10.3,.4,9.8,.38,10.6,.45,9.25,.15,10.05,.32,10.45,.42,9.9,.46,9.3,.36,10.2,.45,10.7,.34,9.75,.44,10.15,.38,10.55,.12,9.22,.36,10.35,.3,9.95,.3,10.65,.55,9.35,.1,10.25,.28,9.85,.28,10.5,.18,10.02,.44,9.18,.1,10.42,.26,10.72,.22,9.72,.36,10.12,.5,9.28,.38,10.32,.5,9.92,.16,10.62,.14,10.22,.48,9.82,.5,10.52,.38,9.33,.28,10.08,.4,10.38,.42,9.97,.52,10.68,.24,9.24,.22,10.27,.42,9.88,.1,10.58,.33,10.18,.34,9.36,.36,9.78,.5,10.46,.5,10.04,.2,10.74,.32,9.2,.18,10.36,.34,9.94,.4,10.64,.22,10.14,.24,9.3,.22,10.26,.52,9.84,.54,10.54,.28,10.07,.46,9.16,.26];
// gene track: names, row, span and exons in track units across the page
const rowY=[52,65,78,91,104,117];
const geneNames=["PPP1R3B","PPP1R3B","LOC157273","TNKS","MIR597","MIR124-1","LINC00599","MSRA","MSRA","MSRA","MSRA","PRSS55","PRSS55","RP1L1","C8orf74","SOX7","PINX1","PINX1","MIR1322","MIR598","XKR6"];
const geneRows=[0,1,2,0,1,1,2,0,1,2,3,4,5,0,1,2,3,4,0,0,1];
const geneLabelEnd=[45,45,112,196,264,323,322,378,378,395,395,551,551,580,605,625,639,639,660,738,687];
const geneStarts=[47,47,113,197,265,325,324,379,379,396,396,553,553,583,606,626,640,640,662,739,688];
const geneEnds=[58,58,117,280,265,325,324,516,516,516,516,557,562,600,616,628,667,667,662,739,775];
const geneDirs=[0,0,0,1,0,0,0,1,1,1,1,0,0,-1,0,0,-1,-1,0,0,-1];
const geneLight=[0,0,1,0,1,1,0,0,0,0,0,0,0,0,0,0,0,0,1,1,1];
const geneExons=[[],[],[[113,114],[116,117]],[[197,198],[206,207],[219,220],[243,244],[252,255],[258,263],[265,266],[267,272],[273,280]],[[265,266]],[[325,326]],[[324,325]],[[379,380],[436,437],[470,471],[476,477],[516,517]],[[379,380],[436,437],[470,471],[476,477],[516,517]],[[396,397],[436,437],[450,451],[470,471],[476,477],[516,517]],[[396,397],[436,437],[470,471],[476,477],[516,517]],[[553,554],[555,557]],[[553,554],[561,562]],[[583,585],[586,588],[590,591],[600,601]],[[606,607],[616,617]],[[626,627],[628,629]],[[640,641],[663,664],[665,667]],[[640,641],[660,661],[663,664],[665,667]],[[662,663]],[],[[688,689],[697,698]]];
const geneOpenHeads=[[[47,52],[52,58]],[[47,52],[52,58]],[],[],[],[],[],[],[],[],[],[],[],[],[],[],[],[],[],[],[[765,770],[770,776]]];
const rulerLabels=["chr8:","9,500,000","10,000,000","15,000,000"];
const rulerTicks=[46.5,229,412,595];

const FONT='"Liberation Sans",Arial,sans-serif';
const pairs=a=>{const o=[];for(let i=0;i<a.length;i+=2)o.push([a[i],a[i+1]]);return o;};
const GRID_L=183,GRID_W=455;
const dots=(name,arr,xi,color)=>({name,type:'scatter',xAxisIndex:xi,yAxisIndex:xi,data:pairs(arr),symbolSize:3.3,clip:false,silent:true,z:3,
  itemStyle:{color,opacity:1,borderWidth:0}});
const GREY='#414141',BLACK='#111111';
const chart=echarts.init(document.getElementById('c'),null,{renderer:'canvas'});
const hidden=(i,extra)=>Object.assign({gridIndex:i,show:false},extra);
const xBase={type:'value',min:5,max:15,interval:1};
const axisGrey='#8a8a8a';
const rotatedName=(t,y)=>({type:'text',z:10,silent:true,x:146,y,rotation:Math.PI/2,style:{x:0,y:0,text:t,align:'center',verticalAlign:'middle',textAlign:'center',textVerticalAlign:'middle',fontFamily:FONT,fontSize:16.5,fill:'#222'}});
chart.setOption({
  animation:false,backgroundColor:'#fff',
  grid:[
    {left:GRID_L,width:GRID_W,top:15,height:255},
    {left:GRID_L,width:GRID_W,top:334,height:183},
    {left:GRID_L,width:GRID_W,top:0,height:527},
    {left:0,width:778,top:630,height:125}
  ],
  xAxis:[
    hidden(0,xBase),
    Object.assign({gridIndex:1},xBase,{
      axisLine:{show:true,onZero:false,lineStyle:{color:'#aaa'}},
      axisTick:{show:true,length:5,lineStyle:{color:'#999'}},
      splitLine:{show:false},
      axisLabel:{margin:12,fontFamily:FONT,fontSize:17.5,color:'#222',showMinLabel:true,showMaxLabel:true,hideOverlap:false,formatter:v=>v.toFixed(1)}
    }),
    hidden(2,xBase),
    hidden(3,{type:'value',min:0,max:778})
  ],
  yAxis:[
    {gridIndex:0,type:'value',min:0,max:1,interval:.25,
      axisLabel:{show:false},
      axisLine:{show:true,onZero:false,lineStyle:{color:axisGrey,width:1.5}},
      axisTick:{show:true,length:3,lineStyle:{color:axisGrey}},
      splitLine:{show:true,lineStyle:{color:'#aeaeae',width:1}}},
    {gridIndex:1,type:'value',min:-.75,max:1.25,interval:.25,
      axisLabel:{show:false},
      axisLine:{show:true,onZero:false,lineStyle:{color:axisGrey,width:1.5}},
      axisTick:{show:true,length:3,lineStyle:{color:axisGrey}},
      splitLine:{show:true,lineStyle:{color:'#aeaeae',width:1}}},
    hidden(2,{type:'value',min:0,max:527,inverse:true}),
    hidden(3,{type:'value',min:0,max:125,inverse:true})
  ],
  series:[
    {type:'custom',name:'shade',xAxisIndex:2,yAxisIndex:2,z:-1,silent:true,coordinateSystem:'cartesian2d',
      data:[[5,homBand[0]],[homBand[1],15.04]],
      renderItem:(p,api)=>{const a=api.coord([api.value(0),0]),b=api.coord([api.value(1),517]);
        return {type:'rect',shape:{x:a[0],y:a[1],width:b[0]-a[0],height:b[1]-a[1]},style:{fill:'#eeeef0'}};}},
    {type:'custom',name:'bounds',xAxisIndex:2,yAxisIndex:2,z:5,silent:true,coordinateSystem:'cartesian2d',
      data:homBand.map(v=>[v]),
      renderItem:(p,api)=>{const a=api.coord([api.value(0),0]),b=api.coord([api.value(0),527]);
        return {type:'line',shape:{x1:a[0],y1:a[1],x2:b[0],y2:b[1]},style:{stroke:'#a6a6a6',lineWidth:2}};}},
    dots('BAF high',bafHighOuter,0,GREY),
    dots('BAF high fill',bafHighFill,0,GREY),
    dots('BAF mid',bafMidOuter,0,GREY),
    dots('BAF mid fill',bafMidFill,0,GREY),
    dots('BAF low',bafLowOuter,0,GREY),
    dots('BAF low fill',bafLowFill,0,GREY),
    dots('BAF high band',bafHighInner,0,BLACK),
    dots('BAF upper band',bafUpperInner,0,BLACK),
    dots('BAF lower band',bafLowerInner,0,BLACK),
    dots('BAF low band',bafLowInner,0,BLACK),
    dots('LRR left',lrrLeft,1,GREY),
    dots('LRR left fill',lrrLeftFill,1,GREY),
    dots('LRR mid',lrrMid,1,GREY),
    dots('LRR mid fill',lrrMidFill,1,GREY),
    dots('LRR right',lrrRight,1,GREY),
    dots('LRR right fill',lrrRightFill,1,GREY),
    dots('LRR far',lrrFar,1,GREY),
    dots('LRR far fill',lrrFarFill,1,GREY),
    dots('LRR band',lrrInner,1,BLACK),
    dots('LRR band fill',lrrInnerFill,1,BLACK),
    {type:'custom',name:'ruler',xAxisIndex:3,yAxisIndex:3,z:4,silent:true,coordinateSystem:'cartesian2d',
      data:rulerTicks.map((v,i)=>[v,i]),
      renderItem:(p,api)=>{const x=api.value(0),a=api.coord([x,10]),b=api.coord([x,21]);
        return {type:'group',children:[
          {type:'line',shape:{x1:a[0],y1:a[1],x2:b[0],y2:b[1]},style:{stroke:'#333',lineWidth:1}},
          {type:'text',style:{x:a[0]-2,y:(a[1]+b[1])/2,text:rulerLabels[api.value(1)],align:'right',verticalAlign:'middle',textAlign:'right',textVerticalAlign:'middle',fontFamily:FONT,fontSize:10,fill:'#222'}}]};}},
    {type:'custom',name:'cursor',xAxisIndex:3,yAxisIndex:3,z:2,silent:true,coordinateSystem:'cartesian2d',
      data:[[45]],
      renderItem:(p,api)=>{const a=api.coord([api.value(0),10]),b=api.coord([api.value(0),125]);
        return {type:'line',shape:{x1:a[0],y1:a[1],x2:b[0],y2:b[1]},style:{stroke:'#f6ccd4',lineWidth:1}};}},
    {type:'custom',name:'genes',xAxisIndex:3,yAxisIndex:3,z:4,silent:true,coordinateSystem:'cartesian2d',
      data:geneNames.map((n,i)=>[geneStarts[i],rowY[geneRows[i]],i]),
      renderItem:(p,api)=>{
        const i=api.value(2),yv=api.value(1);
        const col=geneLight[i]?'#a9a9dc':'#4a4aa6';
        const pt=x=>api.coord([x,yv]);
        const ch=[];
        const lab=pt(geneLabelEnd[i]);
        ch.push({type:'text',style:{x:lab[0],y:lab[1],text:geneNames[i],align:'right',verticalAlign:'middle',textAlign:'right',textVerticalAlign:'middle',fontFamily:FONT,fontSize:10,fill:'#222'}});
        const s=pt(geneStarts[i]),e=pt(geneEnds[i]);
        if(e[0]>s[0]&&geneDirs[i]!==0){
          ch.push({type:'line',shape:{x1:s[0],y1:s[1],x2:e[0],y2:e[1]},style:{stroke:col,lineWidth:1}});
          for(let x=s[0]+6;x<e[0]-3;x+=9){
            const d=geneDirs[i];
            ch.push({type:'polyline',shape:{points:[[x-d*2,s[1]-2],[x,s[1]],[x-d*2,s[1]+2]]},style:{stroke:col,fill:'none',lineWidth:.8}});
          }
        } else if(e[0]>s[0]&&!geneOpenHeads[i].length){
          ch.push({type:'line',shape:{x1:s[0],y1:s[1],x2:e[0],y2:e[1]},style:{stroke:col,lineWidth:1}});
        }
        geneExons[i].forEach(ex=>{const a=pt(ex[0]),b=pt(ex[1]);
          ch.push({type:'rect',shape:{x:a[0],y:a[1]-5.5,width:b[0]-a[0],height:11},style:{fill:col}});});
        geneOpenHeads[i].forEach(h=>{const a=pt(h[0]),b=pt(h[1]);
          const pts=i===20?[[a[0],a[1]-5],[b[0],a[1]],[a[0],a[1]+5]]:[[b[0],a[1]-5],[a[0],a[1]],[b[0],a[1]+5]];
          ch.push({type:'polygon',shape:{points:pts},style:{stroke:col,fill:'none',lineWidth:1}});});
        return {type:'group',children:ch};
      }}
  ],
  graphic:[
    {type:'polyline',z:10,silent:true,shape:{points:[[372,549],[372,563],[62,641],[62,755]]},style:{stroke:'#a0a0a0',fill:'none',lineWidth:2}},
    {type:'polyline',z:10,silent:true,shape:{points:[[455,549],[455,563],[777,639],[777,755]]},style:{stroke:'#a0a0a0',fill:'none',lineWidth:2}},
    {type:'text',z:10,silent:true,style:{x:410,y:620,text:'RefSeq Genes',align:'center',verticalAlign:'middle',textAlign:'center',textVerticalAlign:'middle',fontFamily:FONT,fontSize:16.8,fill:'#222'}},
    {type:'text',z:10,silent:true,style:{x:164,y:538,text:'chr.8 (hg19) MB',align:'right',verticalAlign:'middle',textAlign:'right',textVerticalAlign:'middle',fontFamily:FONT,fontSize:17.5,fill:'#222'}},
    rotatedName('B-Allele frequency',132),
    rotatedName('LogR-ratio',408)
  ]
});
</script></body></html>
